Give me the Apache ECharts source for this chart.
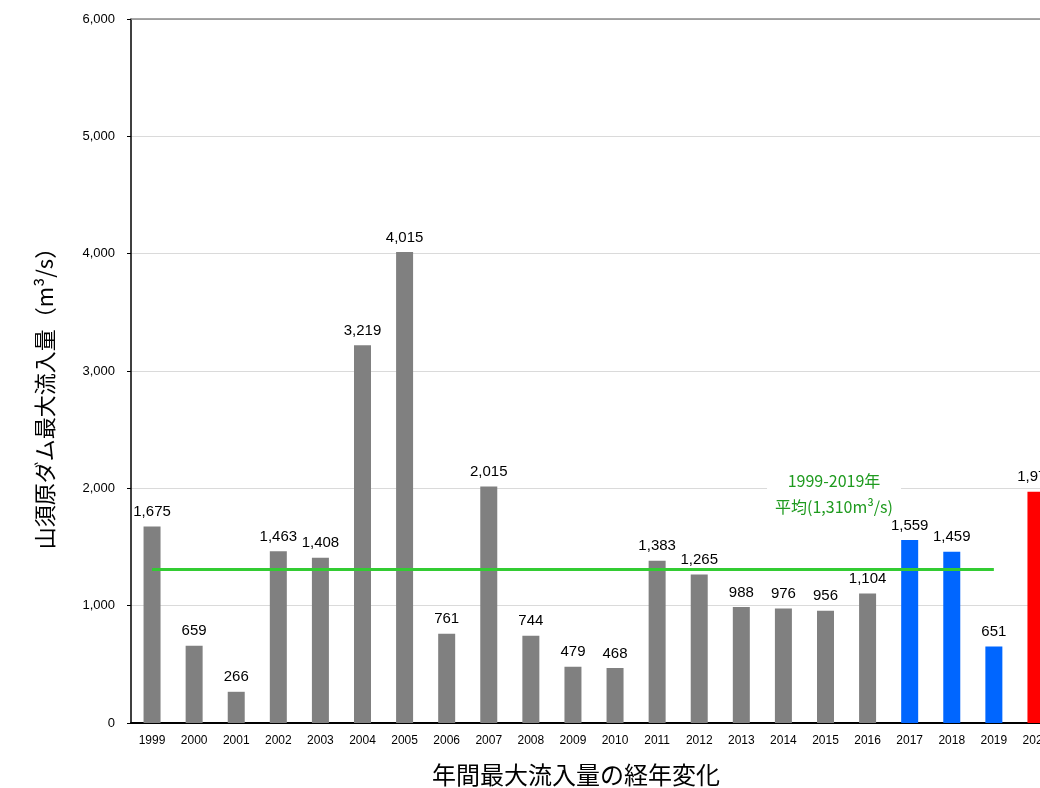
<!DOCTYPE html>
<html><head><meta charset="utf-8">
<script src="https://cdn.jsdelivr.net/npm/echarts@6/dist/echarts.min.js"></script>
<style>html,body{margin:0;padding:0;background:#fff}#c{width:1040px;height:788px}</style>
</head><body><div id="c"></div>
<script>
const years = ['1999','2000','2001','2002','2003','2004','2005','2006','2007','2008','2009','2010','2011','2012','2013','2014','2015','2016','2017','2018','2019','2020'];
const inflow = [1675,659,266,1463,1408,3219,4015,761,2015,744,479,468,1383,1265,988,976,956,1104,1559,1459,651,1970];
const groups = ['past','past','past','past','past','past','past','past','past','past','past','past','past','past','past','past','past','past','recent','recent','recent','current'];
const average = 1310;
const avgFrom = '1999', avgTo = '2019';
const yTicks = [0,1000,2000,3000,4000,5000,6000];
const colorMap = {past:'#808080', recent:'#0066FF', current:'#FF0000'};

const chart = echarts.init(document.getElementById('c'));
const numFont = '"Liberation Sans", Arial, sans-serif';
const jpFont = '"Noto Sans CJK JP", sans-serif';
chart.setOption({
  animation:false,
  grid:{left:131, top:19, height:704, width:926, containLabel:false, outerBoundsMode:'none'},
  xAxis:{
    type:'category', data:years,
    axisLine:{lineStyle:{color:'#000', width:2}},
    axisTick:{inside:true, length:4, lineStyle:{color:'#000'}},
    axisLabel:{color:'#000', fontSize:12, fontFamily:numFont, margin:12},
  },
  yAxis:{
    type:'value', min:yTicks[0], max:yTicks[yTicks.length-1], interval:1000,
    axisLine:{show:true, lineStyle:{color:'#000', width:1.5}},
    axisTick:{show:true, length:4, lineStyle:{color:'#000'}},
    axisLabel:{color:'#000', fontSize:13, fontFamily:numFont, margin:16,
      formatter:v=>v.toLocaleString('en-US')},
    splitLine:{lineStyle:{color:'#dadada', width:1}}
  },
  series:[{
    type:'bar', barWidth:17,
    data: inflow.map((v,i)=>({value:v, itemStyle:{color:colorMap[groups[i]]}})),
    label:{show:true, position:'top', distance:7, color:'#000', fontSize:15, fontFamily:numFont,
      formatter:p=>p.value.toLocaleString('en-US')},
    markLine:{
      silent:true, symbol:'none',
      label:{show:false},
      data:[
        [{coord:[avgFrom, average], lineStyle:{color:'#33CC33', width:3, type:'solid'}},{coord:[avgTo, average]}],
        {yAxis:yTicks[yTicks.length-1], lineStyle:{color:'#8a8a8a', width:1.5, type:'solid'}}
      ]
    }
  }],
  graphic:[
    {type:'text', x:834, y:494, z:100,
      style:{text:'1999-2019年\n平均(1,310m³/s)', fill:'#1E9A1E', font:'16px '+jpFont,
        align:'center', verticalAlign:'middle', lineHeight:26,
        backgroundColor:'#fff', padding:[0,8,0,8]}},
    {type:'text', x:45, y:393, rotation:Math.PI/2, z:100,
      style:{text:'山須原ダム最大流入量（m³/s）', fill:'#000', font:'22px '+jpFont,
        align:'center', verticalAlign:'middle'}},
    {type:'text', x:576, y:775, z:100,
      style:{text:'年間最大流入量の経年変化', fill:'#000', font:'24px '+jpFont,
        align:'center', verticalAlign:'middle'}}
  ]
});
</script></body></html>
